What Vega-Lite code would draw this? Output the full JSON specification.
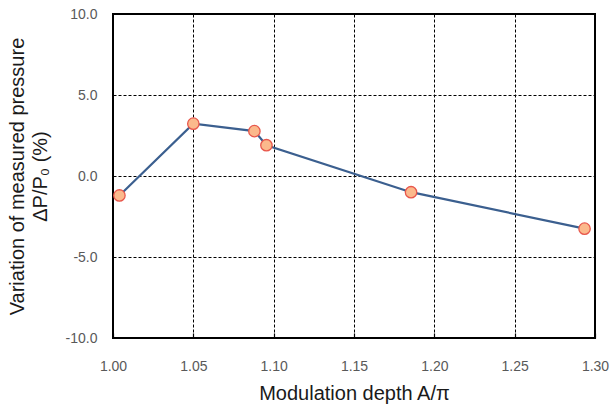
{
  "$schema": "https://vega.github.io/schema/vega-lite/v6.json",
  "width": 482,
  "height": 324,
  "autosize": "none",
  "padding": {"left": 113, "top": 14, "right": 15, "bottom": 68},
  "background": "white",
  "config": {
    "font": "Liberation Sans",
    "view": {"stroke": "black", "strokeWidth": 2}
  },
  "data": {
    "values": [
      {"depth": 1.004, "dp": -1.2},
      {"depth": 1.050, "dp": 3.23},
      {"depth": 1.088, "dp": 2.77},
      {"depth": 1.0955, "dp": 1.9},
      {"depth": 1.1855, "dp": -1.0},
      {"depth": 1.2935, "dp": -3.25}
    ]
  },
  "encoding": {
    "x": {
      "field": "depth",
      "type": "quantitative",
      "scale": {"domain": [1.0, 1.3], "nice": false, "zero": false},
      "axis": {
        "values": [1.0, 1.05, 1.1, 1.15, 1.2, 1.25, 1.3],
        "labelExpr": "format(datum.value, '.2f')",
        "labelFlush": false,
        "labelOverlap": false,
        "title": "Modulation depth A/π",
        "titleFont": "Liberation Sans",
        "titleFontSize": 20,
        "titleFontWeight": "normal",
        "titleColor": "#1a1a1a",
        "titlePadding": 10,
        "labelFontSize": 14,
        "labelColor": "#595959",
        "labelPadding": 26,
        "domain": false,
        "grid": true,
        "gridColor": "black",
        "gridDash": [3, 2],
        "gridWidth": 1,
        "gridOpacity": 1,
        "ticks": true,
        "tickSize": -5,
        "tickColor": "black",
        "tickWidth": 1.2
      }
    },
    "y": {
      "field": "dp",
      "type": "quantitative",
      "scale": {"domain": [-10, 10], "nice": false},
      "axis": {
        "values": [-10, -5, 0, 5, 10],
        "labelExpr": "replace(format(datum.value, '.1f'), '−', '-')",
        "labelFlush": false,
        "labelOverlap": false,
        "title": ["Variation of measured pressure", "ΔP/P₀  (%)"],
        "titleFont": "Liberation Sans",
        "titleFontSize": 20,
        "titleFontWeight": "normal",
        "titleColor": "#1a1a1a",
        "titlePadding": 15,
        "titleLineHeight": 23,
        "labelFontSize": 14,
        "labelColor": "#595959",
        "labelPadding": 16,
        "domain": false,
        "grid": true,
        "gridColor": "black",
        "gridDash": [3, 2],
        "gridWidth": 1,
        "gridOpacity": 1,
        "ticks": false
      }
    }
  },
  "layer": [
    {
      "mark": {"type": "line", "color": "#3b5f8f", "strokeWidth": 2.2}
    },
    {
      "mark": {
        "type": "point",
        "filled": true,
        "fill": "#fbb98c",
        "stroke": "#e8574c",
        "strokeWidth": 1.3,
        "opacity": 1,
        "size": 130
      }
    }
  ]
}
